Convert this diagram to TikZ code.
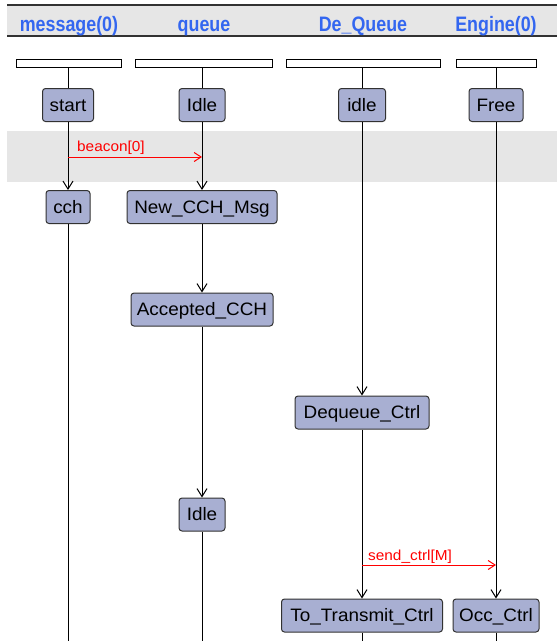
\documentclass[tikz,border=0pt]{standalone}
\usepackage{fontspec}
\setmainfont{Liberation Sans}
\usetikzlibrary{arrows.meta}
\definecolor{statefill}{RGB}{168,175,210}
\definecolor{bandgray}{RGB}{230,230,230}
\definecolor{headblue}{RGB}{51,102,240}
\definecolor{edgegray}{RGB}{50,50,50}
\newcommand{\stxt}[1]{\scalebox{1.05}[1]{#1}}
\tikzset{
  state/.style={draw=edgegray, line width=1pt, fill=statefill, rounded corners=3pt,
    minimum height=33pt, inner sep=0pt, text height=12.5pt, text depth=0pt,
    font=\fontsize{18}{20}\selectfont},
  lifebox/.style={draw=black, line width=1pt, fill=white, minimum height=8pt, inner sep=0pt},
  lifeline/.style={draw=black, line width=1pt},
  flow/.style={lifeline, -{Straight Barb[length=8pt,width=10pt,line width=1pt]}},
  signal/.style={draw=red, line width=1pt, -{Straight Barb[length=7pt,width=9pt,line width=1pt]}},
  siglabel/.style={text=red, anchor=base west, inner sep=0pt, font=\fontsize{14.5}{16}\selectfont},
  header/.style={text=headblue, anchor=base, inner sep=0pt, font=\bfseries\fontsize{19}{22}\selectfont},
}
\begin{document}
\begin{tikzpicture}[x=1pt, y=-1pt]
\useasboundingbox (0,0) rectangle (557,641);
% header band and the shaded step band
\fill[bandgray] (7,5) rectangle (557,36);
\draw[edgegray, line width=1.2pt] (7,5) -- (557,5);
\draw[edgegray, line width=1.2pt] (7,36) -- (557,36);
\fill[bandgray] (7,131) rectangle (557,182);

% column titles
\node[header] (tMsg) at (69,31) {\scalebox{0.94}[1.1]{message(0)}};
\node[header] (tQue) at (204,31) {\scalebox{0.94}[1.1]{queue}};
\node[header] (tDeq) at (363,31) {\scalebox{0.94}[1.1]{De\_Queue}};
\node[header] (tEng) at (496,31) {\scalebox{0.94}[1.1]{Engine(0)}};

% lifeline heads
\node[lifebox, minimum width=105pt] (hMsg) at (68.5,63.5) {};
\node[lifebox, minimum width=137pt] (hQue) at (203.5,63.5) {};
\node[lifebox, minimum width=154pt] (hDeq) at (363,63.5) {};
\node[lifebox, minimum width=80pt]  (hEng) at (496,63.5) {};

% states
\node[state, minimum width=51pt]  (start)  at (68,105) {\stxt{start}};
\node[state, minimum width=46pt]  (idleQ)  at (202,105) {\stxt{Idle}};
\node[state, minimum width=47pt]  (idleD)  at (362,105) {\stxt{idle}};
\node[state, minimum width=54pt]  (free)   at (496,105) {\stxt{Free}};
\node[state, minimum width=44pt]  (cch)    at (68,207) {\stxt{cch}};
\node[state, minimum width=150pt] (newcch) at (202,207) {\stxt{New\_CCH\_Msg}};
\node[state, minimum width=142pt] (acc)    at (202,309.5) {\stxt{Accepted\_CCH}};
\node[state, minimum width=134pt] (deqc)   at (362,412.5) {\stxt{Dequeue\_Ctrl}};
\node[state, minimum width=46pt]  (idleQ2) at (202,514.5) {\stxt{Idle}};
\node[state, minimum width=161pt] (totx)   at (362,615.5) {\stxt{To\_Transmit\_Ctrl}};
\node[state, minimum width=86pt]  (occ)    at (496,615.5) {\stxt{Occ\_Ctrl}};

% lifeline ends at the lower edge
\coordinate (eMsg) at (68,641);
\coordinate (eQue) at (202,641);
\coordinate (eDeq) at (362,641);
\coordinate (eEng) at (496,641);

% message(0)
\draw[lifeline] (hMsg.south -| start) -- (start.north);
\draw[flow] (start.south) -- (cch.north);
\draw[lifeline] (cch.south) -- (eMsg);
% queue
\draw[lifeline] (hQue.south -| idleQ) -- (idleQ.north);
\draw[flow] (idleQ.south) -- (newcch.north);
\draw[flow] (newcch.south) -- (acc.north);
\draw[flow] (acc.south) -- (idleQ2.north);
\draw[lifeline] (idleQ2.south) -- (eQue);
% De_Queue
\draw[lifeline] (hDeq.south -| idleD) -- (idleD.north);
\draw[flow] (idleD.south) -- (deqc.north);
\draw[flow] (deqc.south) -- (totx.north);
\draw[lifeline] (totx.south) -- (eDeq);
% Engine(0)
\draw[lifeline] (hEng.south -| free) -- (free.north);
\draw[flow] (free.south) -- (occ.north);
\draw[lifeline] (occ.south) -- (eEng);

% signals
\coordinate (bFrom) at (68,157);
\coordinate (bTo)   at (202,157);
\draw[signal] (bFrom) -- (bTo);
\node[siglabel] (bLab) at (77,151) {\scalebox{1.06}[1]{beacon[0]}};

\coordinate (sFrom) at (362,565);
\coordinate (sTo)   at (496,565);
\draw[signal] (sFrom) -- (sTo);
\node[siglabel] (sLab) at (368,560) {\scalebox{1.06}[1]{send\_ctrl[M]}};
\end{tikzpicture}
\end{document}
